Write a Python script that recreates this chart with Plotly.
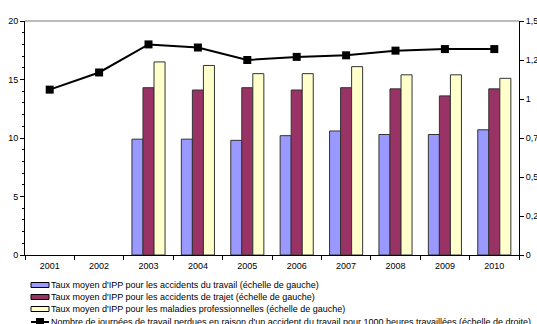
import plotly.graph_objects as go

# Years on the category axis
years = ["2001", "2002", "2003", "2004", "2005", "2006", "2007", "2008", "2009", "2010"]

# Average IPP rates (left scale)
ipp_travail = [None, None, 9.9, 9.9, 9.8, 10.2, 10.6, 10.3, 10.3, 10.7]
ipp_trajet = [None, None, 14.3, 14.1, 14.3, 14.1, 14.3, 14.2, 13.6, 14.2]
ipp_maladies = [None, None, 16.5, 16.2, 15.5, 15.5, 16.1, 15.4, 15.4, 15.1]

# Working days lost per 1000 hours worked (right scale)
journees_perdues = [1.06, 1.17, 1.35, 1.33, 1.25, 1.27, 1.28, 1.31, 1.32, 1.32]

bar_names = [
    "Taux moyen d'IPP pour les accidents du travail (échelle de gauche)",
    "Taux moyen d'IPP pour les accidents de trajet (échelle de gauche)",
    "Taux moyen d'IPP pour les maladies professionnelles (échelle de gauche)",
]
line_name = ("Nombre de journées de travail perdues en raison d'un accident du travail "
             "pour 1000 heures travaillées (échelle de droite)")
bar_colors = ["#9999FF", "#993366", "#FFFFCC"]

right_ticks = [0, 0.25, 0.5, 0.75, 1, 1.25, 1.5]
right_labels = ["0", "0,25", "0,5", "0,75", "1", "1,25", "1,5"]

FONT = "Arial, Liberation Sans, sans-serif"
FS = 9
W, H = 537, 324
L, R, T, B = 25, 18, 21, 69
PW, PH = W - L - R, H - T - B

fig = go.Figure()
for name, vals, col in zip(bar_names, [ipp_travail, ipp_trajet, ipp_maladies], bar_colors):
    fig.add_trace(go.Bar(
        x=years, y=vals, name=name, marker_color=col,
        marker_line_color="#333333", marker_line_width=1,
        showlegend=False, yaxis="y",
    ))

fig.add_trace(go.Scatter(
    x=years, y=journees_perdues, name=line_name, yaxis="y2",
    mode="lines+markers", line=dict(color="black", width=2),
    marker=dict(symbol="square", size=8, color="black"),
    showlegend=False,
))

# Hand-built legend below the plot, stacked tightly
def px_to_paper(px, py):
    return (px - L) / PW, (H - B - py) / PH

shapes = []
annotations = []
entry_y = [285, 297, 309, 322]
for i, (name, col) in enumerate(zip(bar_names, bar_colors)):
    yc = entry_y[i]
    x0, y0 = px_to_paper(31, yc - 2.5)
    x1, y1 = px_to_paper(49, yc + 2.5)
    shapes.append(dict(type="rect", xref="paper", yref="paper", x0=x0, x1=x1, y0=y0, y1=y1,
                       fillcolor=col, line=dict(color="#000000", width=1)))
    tx, ty = px_to_paper(49, yc)
    annotations.append(dict(xref="paper", yref="paper", x=tx, y=ty, xanchor="left", yanchor="middle",
                            text=name, showarrow=False, font=dict(family=FONT, size=FS, color="black")))

yc = entry_y[3]
x0, ym = px_to_paper(31, yc)
x1, _ = px_to_paper(49, yc)
shapes.append(dict(type="line", xref="paper", yref="paper", x0=x0, x1=x1, y0=ym, y1=ym,
                   line=dict(color="black", width=2)))
sx0, sy0 = px_to_paper(36, yc - 4)
sx1, sy1 = px_to_paper(44, yc + 4)
shapes.append(dict(type="rect", xref="paper", yref="paper", x0=sx0, x1=sx1, y0=sy0, y1=sy1,
                   fillcolor="black", line=dict(color="black", width=0)))
tx, ty = px_to_paper(49, yc)
annotations.append(dict(xref="paper", yref="paper", x=tx, y=ty, xanchor="left", yanchor="middle",
                        text=line_name, showarrow=False, font=dict(family=FONT, size=FS, color="black")))

# Grey frame line along the top of the plot area
shapes.append(dict(type="line", xref="paper", yref="paper", x0=0, x1=1, y0=1, y1=1,
                   line=dict(color="#BBBBBB", width=2)))

fig.update_layout(
    width=W, height=H,
    margin=dict(l=L, r=R, t=T, b=B, autoexpand=False),
    paper_bgcolor="white", plot_bgcolor="white",
    font=dict(family=FONT, size=FS, color="black"),
    barmode="group", bargap=0.33, bargroupgap=0,
    shapes=shapes, annotations=annotations,
    xaxis=dict(
        type="category", range=[-0.5, 9.5], showgrid=False, automargin=False,
        showline=True, linecolor="black", linewidth=1,
        ticks="outside", tickson="boundaries", ticklen=4, tickcolor="black",
        tickfont=dict(size=FS), ticklabelstandoff=2,
    ),
    yaxis=dict(
        range=[0, 20], dtick=5, showgrid=False, zeroline=False, automargin=False,
        showline=True, linecolor="black", linewidth=1,
        ticks="outside", ticklen=4, tickcolor="black", tickfont=dict(size=FS),
        minor=dict(dtick=1, ticks="outside", ticklen=2, tickcolor="black", showgrid=False),
    ),
    yaxis2=dict(
        range=[0, 1.5], overlaying="y", side="right", showgrid=False, zeroline=False,
        automargin=False, tickvals=right_ticks, ticktext=right_labels,
        showline=True, linecolor="black", linewidth=1,
        ticks="outside", ticklen=4, tickcolor="black", tickfont=dict(size=FS),
    ),
)

fig.write_html("out.html")
